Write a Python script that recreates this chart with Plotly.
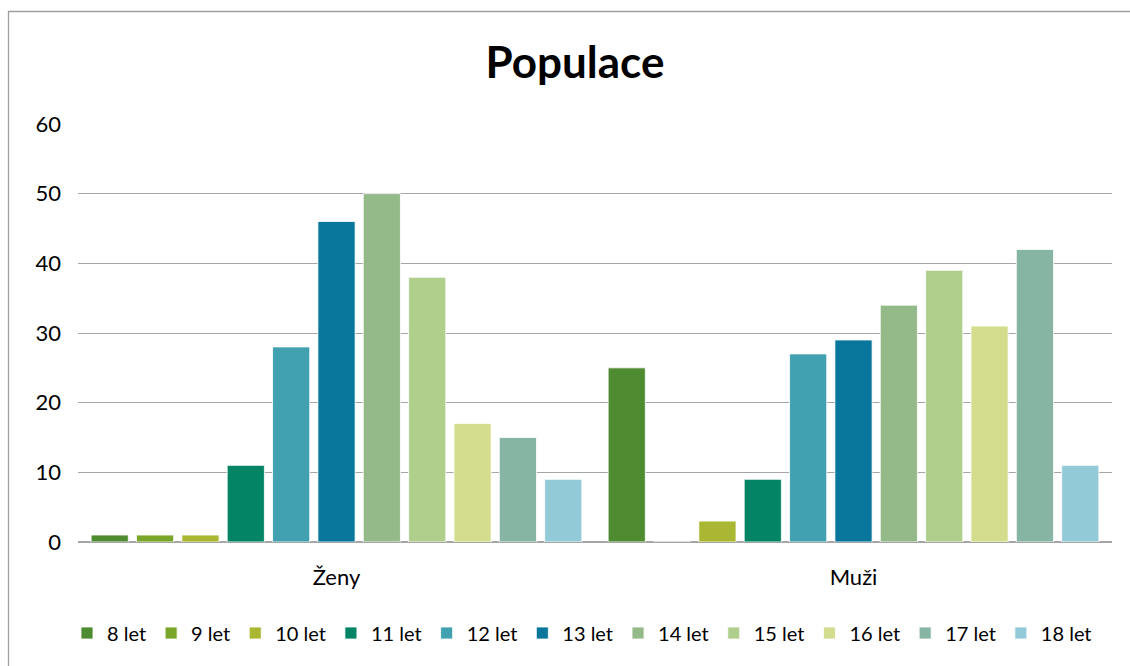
import plotly.graph_objects as go

categories = ["Ženy", "Muži"]
series_names = ["8 let", "9 let", "10 let", "11 let", "12 let", "13 let",
                "14 let", "15 let", "16 let", "17 let", "18 let"]
zeny = [1, 1, 1, 11, 28, 46, 50, 38, 17, 15, 9]
muzi = [25, 0, 3, 9, 27, 29, 34, 39, 31, 42, 11]
colors = ["#4E8B31", "#7AA52B", "#AAB733", "#028465", "#42A1B0", "#09779C",
          "#94BA8A", "#B0CE8C", "#D4DD8E", "#86B5A4", "#92CAD7"]
y_ticks = [0, 10, 20, 30, 40, 50, 60]

FONT = "Lato, Calibri, Carlito, sans-serif"

fig = go.Figure()
for name, z, m, c in zip(series_names, zeny, muzi, colors):
    fig.add_trace(go.Bar(
        x=categories, y=[z, m], name=name,
        marker=dict(color=c, line=dict(color="rgba(255,255,255,0.8)", width=1)),
    ))

W, H = 1130, 666
L, R, T, B = 78, 18, 124, 124
pw, ph = W - L - R, H - T - B

def px(x):
    return (x - L) / pw

def py(y):
    return (H - B - y) / ph

fig.update_layout(
    width=W, height=H,
    margin=dict(l=L, r=R, t=T, b=B, autoexpand=False),
    paper_bgcolor="white", plot_bgcolor="white",
    font=dict(family=FONT, size=22, color="#000000"),
    title=dict(text="<b>Populace</b>", x=px(575), xref="paper", xanchor="center",
               y=1 - 63 / H, yanchor="middle", font=dict(size=44, family=FONT)),
    barmode="group", bargap=0.035, bargroupgap=0.18,
    showlegend=True,
    legend=dict(orientation="h", x=px(582), xanchor="center", y=py(633), yanchor="middle",
                font=dict(size=20), itemwidth=30, traceorder="normal",
                tracegroupgap=0, itemclick=False),
    xaxis=dict(showgrid=False, showline=False, ticks="", tickfont=dict(size=22),
               ticklabelstandoff=20),
    yaxis=dict(range=[0, 60], tickvals=y_ticks, showgrid=True, gridcolor="#A6A6A6",
               gridwidth=1, zeroline=True, zerolinecolor="#A6A6A6", zerolinewidth=1.5,
               showline=False, ticks="", tickfont=dict(size=22), ticklabelstandoff=16),
    shapes=[dict(type="rect", xref="paper", yref="paper",
                 x0=px(8.5), x1=px(1140), y0=py(680), y1=py(11.5),
                 line=dict(color="#9E9E9E", width=1.3), fillcolor="rgba(0,0,0,0)",
                 layer="below")],
)

fig.write_html("out.html")
